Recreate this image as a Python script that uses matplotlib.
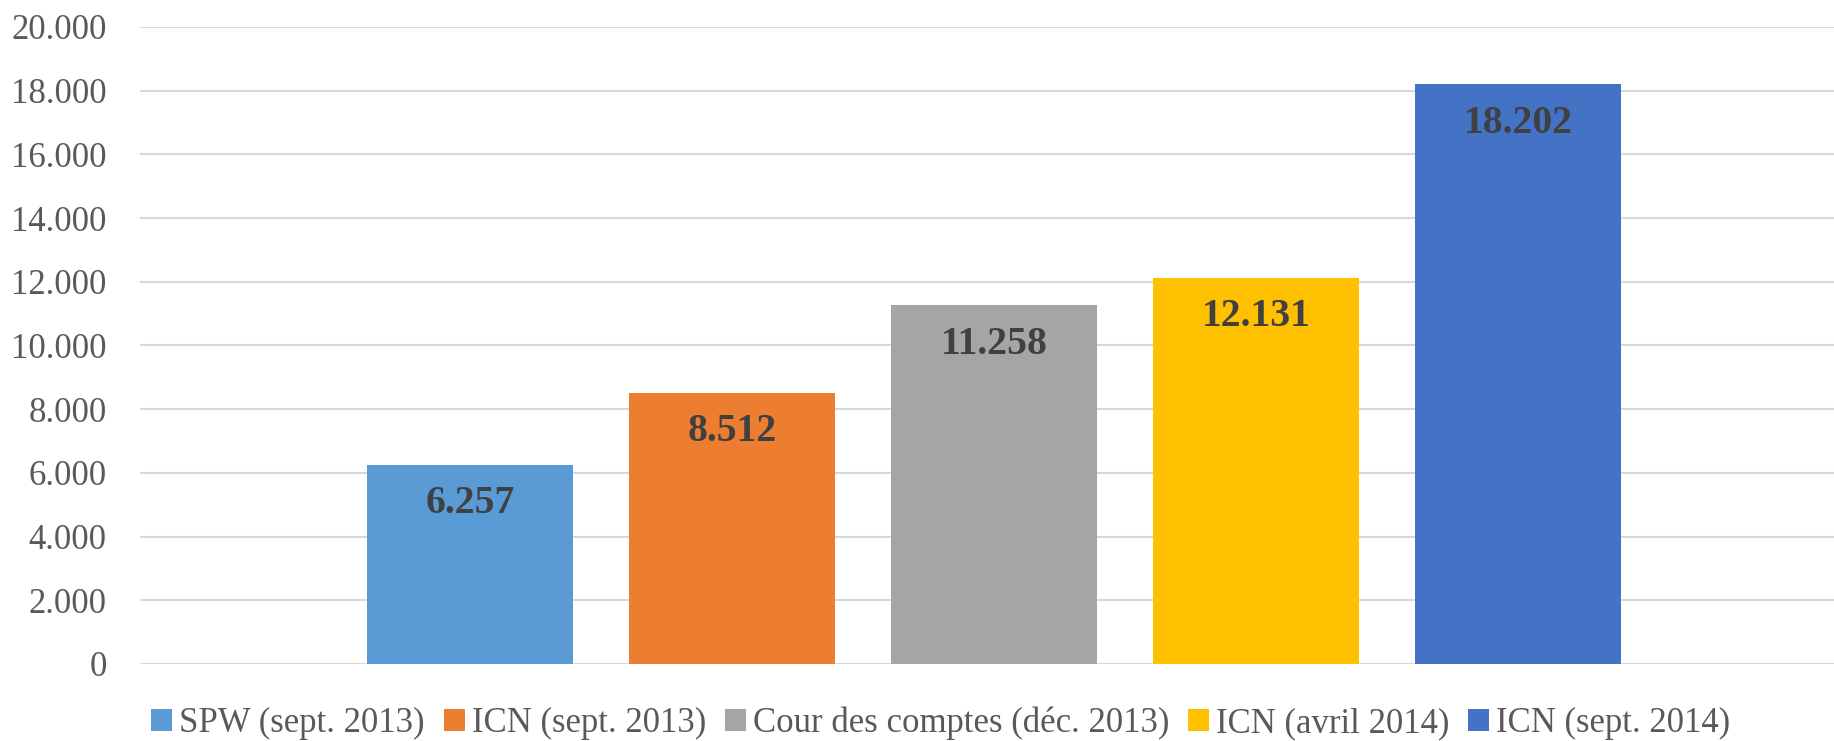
import matplotlib.pyplot as plt
import numpy as np
from matplotlib.patches import Patch

# data
series = [
    "SPW (sept. 2013)",
    "ICN (sept. 2013)",
    "Cour des comptes (déc. 2013)",
    "ICN (avril 2014)",
    "ICN (sept. 2014)",
]
values = [6257, 8512, 11258, 12131, 18202]
colors = ["#5B9BD5", "#ED7D31", "#A5A5A5", "#FFC000", "#4472C4"]
yticks = [0, 2000, 4000, 6000, 8000, 10000, 12000, 14000, 16000, 18000, 20000]


def fmt(v):
    return f"{v:,.0f}".replace(",", ".")


plt.rcParams["font.family"] = ["Liberation Serif", "DejaVu Serif"]

fig = plt.figure(figsize=(18.34, 7.41), dpi=100)
ax = fig.add_axes([0.0763, 0.104, 0.9237, 0.8596])

x = np.arange(len(values))
bars = ax.bar(x, values, width=0.786, color=colors, zorder=3)

for b, v in zip(bars, values):
    ax.annotate(
        fmt(v),
        (b.get_x() + b.get_width() / 2, v),
        xytext=(0, -28),
        textcoords="offset points",
        ha="center",
        va="center",
        fontsize=28.5,
        fontweight="bold",
        color="#404040",
    )

ax.set_xlim(-1.259, 5.205)
ax.set_ylim(0, 20000)
ax.set_yticks(yticks)
ax.set_yticklabels([fmt(t) for t in yticks], fontsize=25, color="#595959")
ax.set_xticks([])
ax.tick_params(axis="y", length=0, pad=24)
ax.grid(axis="y", color="#D9D9D9", linewidth=1.5, zorder=0)
for s in ax.spines.values():
    s.set_visible(False)

handles = [Patch(facecolor=c) for c in colors]
fig.legend(
    handles,
    series,
    loc="center",
    bbox_to_anchor=(0.513, 0.024),
    ncol=5,
    frameon=False,
    fontsize=25,
    handlelength=0.6,
    handleheight=0.6,
    handletextpad=0.2,
    columnspacing=0.55,
    labelcolor="#595959",
)

fig.savefig("out.png", dpi=100)
